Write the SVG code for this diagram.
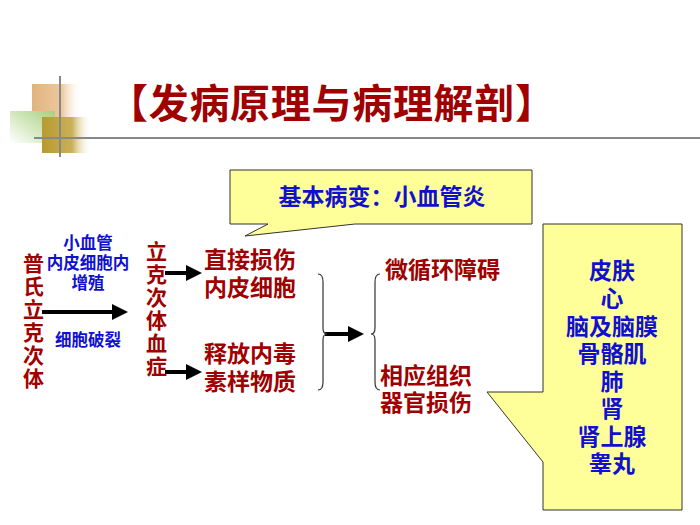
<svg xmlns="http://www.w3.org/2000/svg" width="700" height="525" viewBox="0 0 700 525">
<defs>
<linearGradient id="gt" x1="0" x2="1"><stop offset="0" stop-color="#e2b27e"/><stop offset="0.6" stop-color="#ecc9a0"/><stop offset="1" stop-color="#fff" stop-opacity="0"/></linearGradient>
<linearGradient id="gg" x1="1" y1="0" x2="0" y2="1"><stop offset="0" stop-color="#a8cf7e"/><stop offset="1" stop-color="#fff"/></linearGradient>
<linearGradient id="go" x1="0" x2="1"><stop offset="0" stop-color="#b89a2e"/><stop offset="0.6" stop-color="#c9b05a"/><stop offset="1" stop-color="#fff" stop-opacity="0"/></linearGradient>
<marker id="ah" markerWidth="4" markerHeight="4" refX="3" refY="2" orient="auto" markerUnits="strokeWidth"><path d="M0,0 L4,2 L0,4 Z" fill="#000"/></marker>
<style>
text{font-family:"Liberation Sans","Noto Sans CJK SC",sans-serif;font-weight:bold}
.r{fill:#a00000;font-size:23px}
.v{fill:#a00000;font-size:21px}
.b{fill:#1010d0;font-size:16.5px;text-anchor:middle}
.l{fill:#1010d0;font-size:23px;text-anchor:middle}
.call{fill:#ffff99;stroke:#333;stroke-width:1}
.arr{stroke:#000;stroke-width:4;fill:none;marker-end:url(#ah)}
.br{fill:none;stroke:#333;stroke-width:1.2}
</style>
</defs>
<rect width="700" height="525" fill="#fff"/>
<g id="deco">
<rect x="32" y="84" width="50" height="37" fill="url(#gt)"/>
<rect x="10" y="111" width="45" height="32" fill="url(#gg)"/>
<rect x="42" y="117" width="50" height="36" fill="url(#go)"/>
<line x1="60" y1="76" x2="60" y2="157" stroke="#888" stroke-width="2"/>
<line x1="34" y1="138" x2="700" y2="138" stroke="#888" stroke-width="2"/>
</g>
<text x="108" y="118" fill="#a00000" font-size="40" textLength="447">【发病原理与病理解剖】</text>
<g id="connectors">
<line class="arr" x1="42" y1="312" x2="124" y2="312"/>
<line class="arr" x1="165" y1="273" x2="198" y2="273"/>
<line class="arr" x1="165" y1="372" x2="198" y2="372"/>
<line class="arr" x1="325" y1="334" x2="360" y2="334"/>
<path class="br" d="M318,274 Q323,274 323,282 V328 Q323,334 327,334 Q323,334 323,340 V382 Q323,390 318,390"/>
<path class="br" d="M380,274 Q375,274 375,282 V328 Q375,334 371,334 Q375,334 375,340 V382 Q375,390 380,390"/>
</g>
<g id="n-pushi"><text class="v"><tspan x="23" y="271">普</tspan><tspan x="23" y="294">氏</tspan><tspan x="23" y="317">立</tspan><tspan x="23" y="340">克</tspan><tspan x="23" y="363">次</tspan><tspan x="23" y="386">体</tspan></text></g>
<g id="n-labels"><text class="b" x="88" y="249">小血管</text><text class="b" x="88" y="269">内皮细胞内</text><text class="b" x="88" y="289">增殖</text><text class="b" x="88" y="346">细胞破裂</text></g>
<g id="n-xuezheng"><text class="v"><tspan x="146" y="259">立</tspan><tspan x="146" y="282">克</tspan><tspan x="146" y="305">次</tspan><tspan x="146" y="328">体</tspan><tspan x="146" y="351">血</tspan><tspan x="146" y="374">症</tspan></text></g>
<g id="n-zhijie"><text class="r" x="204" y="268">直接损伤</text><text class="r" x="204" y="296">内皮细胞</text></g>
<g id="n-shifang"><text class="r" x="204" y="362">释放内毒</text><text class="r" x="204" y="390">素样物质</text></g>
<g id="n-wei"><text class="r" x="385" y="278">微循环障碍</text></g>
<g id="n-xiang"><text class="r" x="380" y="384">相应组织</text><text class="r" x="380" y="411">器官损伤</text></g>
<g id="n-call1"><path class="call" d="M230,170 H532 V224 H355 L245,236 L268,224 H230 Z"/><text class="l" x="382" y="205" font-size="22">基本病变：小血管炎</text></g>
<g id="n-call2"><path class="call" d="M543,224 H682 V510 H543 V462 L487,392 H543 Z"/>
<text class="l"><tspan x="612" y="279">皮肤</tspan><tspan x="612" y="307">心</tspan><tspan x="612" y="335">脑及脑膜</tspan><tspan x="612" y="362">骨骼肌</tspan><tspan x="612" y="390">肺</tspan><tspan x="612" y="417">肾</tspan><tspan x="612" y="445">肾上腺</tspan><tspan x="612" y="472">睾丸</tspan></text></g>
</svg>
